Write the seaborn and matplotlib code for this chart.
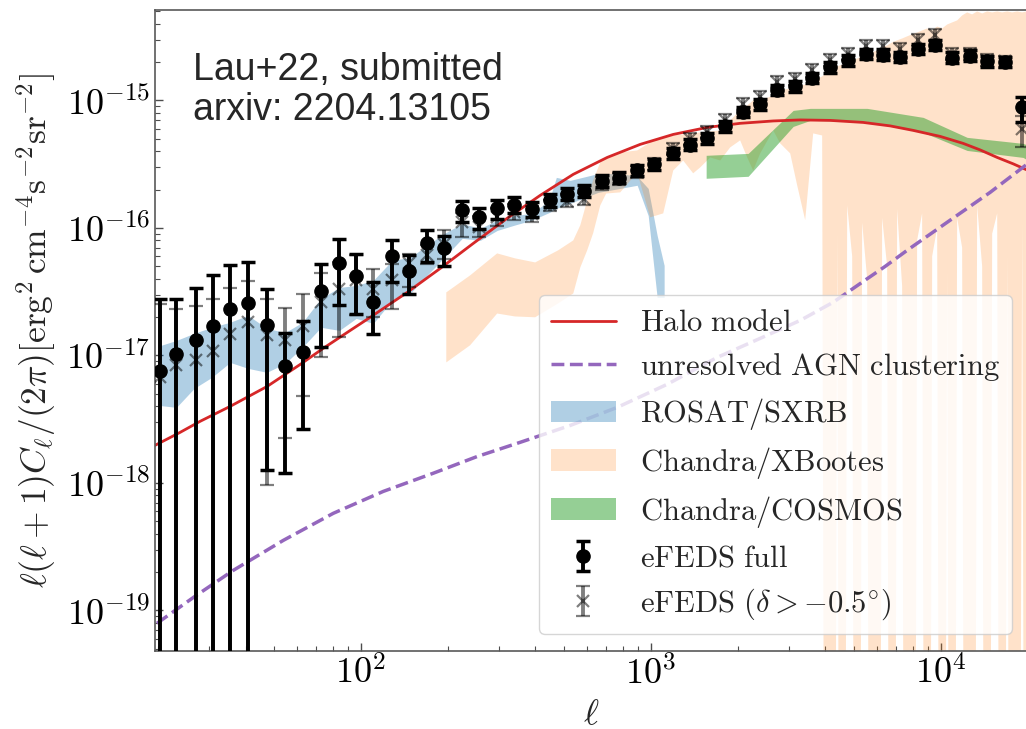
import numpy as np
import matplotlib
matplotlib.use("Agg")
import matplotlib.pyplot as plt
import seaborn as sns
from matplotlib.patches import Patch
from matplotlib.ticker import FuncFormatter, NullFormatter, LogLocator

# eFEDS full (black circles) and the dec > -0.5 deg subset (grey crosses)
ell = [20.3, 23.1, 27.0, 30.9, 35.4, 40.8, 47.3, 54.8, 62.9, 72.8, 84.0, 96.3,
       110.5, 127.9, 146.7, 168.9, 194.2, 223.0, 256.4, 294.4, 337.8, 388.8,
       447.1, 513.3, 590.3, 677.8, 777.7, 894.6, 1029, 1191, 1366, 1560, 1804,
       2070, 2382, 2733, 3145, 3608, 4153, 4802, 5514, 6341, 7239, 8332, 9557,
       10965, 12619, 14479, 16660, 19025]
full = [7.6e-18, 1.02e-17, 1.31e-17, 1.70e-17, 2.30e-17, 2.59e-17, 1.72e-17, 8.2e-18,
        1.07e-17, 3.19e-17, 5.33e-17, 4.19e-17, 2.62e-17, 5.97e-17, 4.58e-17, 7.60e-17,
        6.95e-17, 1.37e-16, 1.22e-16, 1.42e-16, 1.52e-16, 1.40e-16, 1.66e-16, 1.85e-16,
        1.94e-16, 2.33e-16, 2.48e-16, 2.83e-16, 3.15e-16, 3.86e-16, 4.49e-16, 5.06e-16,
        6.28e-16, 8.09e-16, 9.30e-16, 1.21e-15, 1.29e-15, 1.50e-15, 1.82e-15, 2.06e-15,
        2.32e-15, 2.28e-15, 2.19e-15, 2.54e-15, 2.73e-15, 2.16e-15, 2.25e-15, 2.02e-15,
        2.00e-15, 8.86e-16]
full_lo = [0, 0, 0, 0, 0, 0, 1.27e-18, 1.19e-18, 2.66e-18, 1.16e-17, 2.47e-17, 2.10e-17,
           1.48e-17, 3.76e-17, 3.05e-17, 5.39e-17, 5.01e-17, 1.11e-16, 9.86e-17, 1.18e-16,
           1.31e-16, 1.22e-16, 1.46e-16, 1.66e-16, 1.74e-16, 2.10e-16, 2.24e-16, 2.56e-16,
           2.85e-16, 3.50e-16, 4.07e-16, 4.58e-16, 5.70e-16, 7.35e-16, 8.45e-16, 1.10e-15,
           1.17e-15, 1.36e-15, 1.65e-15, 1.87e-15, 2.11e-15, 2.07e-15, 1.99e-15, 2.31e-15,
           2.48e-15, 1.96e-15, 2.04e-15, 1.84e-15, 1.82e-15, 6.75e-16]
full_hi = [2.75e-17, 2.79e-17, 3.40e-17, 4.24e-17, 5.08e-17, 5.39e-17, 3.34e-17, 1.50e-17,
           1.86e-17, 5.24e-17, 8.22e-17, 6.28e-17, 3.76e-17, 8.07e-17, 6.09e-17, 9.68e-17,
           8.57e-17, 1.64e-16, 1.44e-16, 1.66e-16, 1.74e-16, 1.59e-16, 1.85e-16, 2.06e-16,
           2.16e-16, 2.58e-16, 2.74e-16, 3.12e-16, 3.48e-16, 4.25e-16, 4.95e-16, 5.58e-16,
           6.92e-16, 8.90e-16, 1.02e-15, 1.33e-15, 1.42e-15, 1.65e-15, 2.00e-15, 2.27e-15,
           2.55e-15, 2.51e-15, 2.41e-15, 2.79e-15, 3.00e-15, 2.38e-15, 2.48e-15, 2.22e-15,
           2.20e-15, 1.07e-15]
north = [6.76e-18, 8.35e-18, 9.25e-18, 1.09e-17, 1.48e-17, 1.82e-17, 1.44e-17, 1.31e-17,
         1.69e-17, 2.62e-17, 3.33e-17, 3.87e-17, 3.33e-17, 3.87e-17, 5.27e-17, 6.09e-17,
         7.52e-17, 1.11e-16, 1.01e-16, 1.22e-16, 1.33e-16, 1.29e-16, 1.50e-16, 1.64e-16,
         1.69e-16, 2.23e-16, 2.43e-16, 2.74e-16, 3.15e-16, 4.18e-16, 5.01e-16, 5.64e-16,
         6.97e-16, 9.31e-16, 1.06e-15, 1.39e-15, 1.48e-15, 1.72e-15, 2.08e-15, 2.32e-15,
         2.67e-15, 2.67e-15, 2.54e-15, 2.99e-15, 3.24e-15, 2.32e-15, 2.32e-15, 2.06e-15,
         2.02e-15, 6.00e-16]
north_lo = [0, 0, 0, 0, 0, 0, 9.55e-19, 2.25e-18, 4.77e-18, 9.70e-18, 1.39e-17, 2.06e-17,
            2.00e-17, 2.32e-17, 3.43e-17, 5.24e-17, 5.73e-17, 8.47e-17, 8.42e-17, 1.03e-16,
            1.15e-16, 1.11e-16, 1.35e-16, 1.47e-16, 1.52e-16, 2.00e-16, 2.18e-16, 2.46e-16,
            2.83e-16, 3.75e-16, 4.49e-16, 5.06e-16, 6.25e-16, 8.35e-16, 9.50e-16, 1.25e-15,
            1.33e-15, 1.54e-15, 1.87e-15, 2.08e-15, 2.39e-15, 2.39e-15, 2.28e-15, 2.68e-15,
            2.90e-15, 2.08e-15, 2.08e-15, 1.85e-15, 1.81e-15, 4.30e-16]
north_hi = [2.54e-17, 2.32e-17, 2.42e-17, 2.75e-17, 3.37e-17, 3.80e-17, 2.75e-17, 2.37e-17,
            3.01e-17, 4.42e-17, 5.36e-17, 6.09e-17, 4.79e-17, 5.24e-17, 6.28e-17, 7.29e-17,
            9.55e-17, 1.30e-16, 1.23e-16, 1.42e-16, 1.53e-16, 1.48e-16, 1.67e-16, 1.83e-16,
            1.89e-16, 2.49e-16, 2.71e-16, 3.06e-16, 3.51e-16, 4.66e-16, 5.59e-16, 6.29e-16,
            7.77e-16, 1.04e-15, 1.18e-15, 1.55e-15, 1.65e-15, 1.92e-15, 2.32e-15, 2.59e-15,
            2.98e-15, 2.98e-15, 2.83e-15, 3.34e-15, 3.61e-15, 2.59e-15, 2.59e-15, 2.30e-15,
            2.25e-15, 7.60e-16]

# models
halo_ell = [19.5, 23.8, 27.9, 35.4, 47.5, 61.8, 74.1, 91.9, 107.7, 144.4, 187.7, 243.9,
            319.5, 415.3, 539.8, 707.0, 918.8, 1194, 1564, 2032, 2641, 3272, 4153, 5398,
            6686, 8025, 9945, 11940, 13660, 15640, 17760, 20000]
halo_cl = [1.97e-18, 2.49e-18, 3.04e-18, 3.98e-18, 5.71e-18, 8.50e-18, 1.135e-17, 1.57e-17,
           1.99e-17, 3.12e-17, 4.81e-17, 7.55e-17, 1.19e-16, 1.80e-16, 2.63e-16, 3.57e-16,
           4.52e-16, 5.41e-16, 6.14e-16, 6.61e-16, 6.90e-16, 7.03e-16, 6.97e-16, 6.72e-16,
           6.31e-16, 5.82e-16, 5.22e-16, 4.60e-16, 4.09e-16, 3.57e-16, 3.18e-16, 2.82e-16]
agn_ell = [19.8, 26.8, 36.3, 54.0, 80.3, 119.4, 177.6, 251.8, 354.2, 526.8, 765.4, 1138,
           1693, 2382, 3272, 4253, 5398, 6427, 7650, 10770, 14790, 20000]
agn_cl = [7.91e-20, 1.29e-19, 2.06e-19, 3.54e-19, 5.77e-19, 8.57e-19, 1.19e-18, 1.61e-18,
          2.08e-18, 2.82e-18, 3.91e-18, 5.93e-18, 9.64e-18, 1.36e-17, 1.88e-17, 2.61e-17,
          3.80e-17, 4.99e-17, 6.67e-17, 1.15e-16, 1.90e-16, 3.21e-16]

# literature bands
rosat_ell = [20.0, 23.1, 26.6, 30.6, 35.4, 40.8, 47.4, 54.8, 62.9, 72.9, 84.3, 96.3, 110.3,
             128.2, 147.9, 169.0, 194.0, 223.6, 258, 295, 338, 389, 446, 472, 527, 658,
             783, 897, 979, 1051, 1111]
rosat_hi = [1.18e-17, 1.31e-17, 1.49e-17, 1.66e-17, 1.82e-17, 2.06e-17, 1.63e-17, 1.51e-17,
            1.82e-17, 2.80e-17, 3.41e-17, 3.54e-17, 3.87e-17, 5.56e-17, 5.87e-17, 7.29e-17,
            9.06e-17, 1.08e-16, 9.91e-17, 1.15e-16, 1.25e-16, 1.30e-16, 1.64e-16, 2.49e-16,
            2.36e-16, 2.67e-16, 2.67e-16, 2.54e-16, 2.04e-16, 8.73e-17, 5.08e-17]
rosat_lo = [4.06e-18, 3.91e-18, 5.51e-18, 6.72e-18, 8.81e-18, 7.91e-18, 7.36e-18, 8.65e-18,
            1.16e-17, 1.66e-17, 1.57e-17, 1.95e-17, 1.78e-17, 2.70e-17, 3.06e-17, 4.24e-17,
            5.87e-17, 8.28e-17, 7.98e-17, 9.55e-17, 1.05e-16, 1.15e-16, 1.32e-16, 1.42e-16,
            1.56e-16, 1.90e-16, 2.04e-16, 2.16e-16, 1.25e-16, 2.85e-17, 2.85e-17]

xb_ell = [197, 238, 295, 340, 399, 479, 540, 571, 603, 632, 669, 701, 784, 897, 995, 1103,
          1194, 1292, 1399, 1479, 1602, 1734, 1877, 2032, 2149, 2253, 2382, 2641, 2793, 3023,
          3195, 3405, 3628, 3896, 4054, 4219, 4390, 4568, 4753, 4945, 5145, 5353, 5570, 5796,
          6030, 6274, 6528, 6792, 7067, 7353, 7650, 7960, 8282, 8617, 8970, 9333, 9710, 10104,
          10513, 10940, 11380, 11840, 12320, 12820, 13340, 13880, 14440, 15030, 15640, 16270,
          16930, 17620, 18330, 19070, 19850]
xb_hi = [3.12e-17, 4.24e-17, 6.31e-17, 5.77e-17, 5.36e-17, 6.67e-17, 7.98e-17, 1.05e-16,
         1.64e-16, 2.36e-16, 3.26e-16, 3.57e-16, 3.91e-16, 4.05e-16, 4.69e-16, 5.13e-16,
         5.31e-16, 5.41e-16, 5.51e-16, 5.61e-16, 5.71e-16, 5.82e-16, 6.97e-16, 8.35e-16,
         9.14e-16, 1.00e-15, 1.00e-15, 1.09e-15, 1.20e-15, 1.24e-15, 1.29e-15, 1.33e-15,
         1.44e-15, 1.54e-15, 1.66e-15, 1.72e-15, 1.85e-15, 1.91e-15, 1.99e-15, 2.06e-15,
         2.13e-15, 2.21e-15, 2.25e-15, 2.38e-15, 2.47e-15, 2.61e-15, 2.70e-15, 2.85e-15,
         2.96e-15, 3.06e-15, 3.18e-15, 3.30e-15, 3.41e-15, 3.54e-15, 3.67e-15, 3.54e-15,
         3.80e-15, 3.67e-15, 3.94e-15, 4.09e-15, 4.24e-15, 4.64e-15, 4.90e-15, 4.73e-15,
         4.99e-15, 4.81e-15, 4.99e-15, 4.90e-15, 4.99e-15, 4.90e-15, 4.99e-15, 4.90e-15,
         4.99e-15, 4.90e-15, 4.99e-15]
xb_lo = [8.81e-18, 1.20e-17, 2.13e-17, 2.02e-17, 1.99e-17, 2.56e-17, 3.06e-17, 4.90e-17,
         6.67e-17, 9.06e-17, 1.50e-16, 1.86e-16, 1.90e-16, 2.72e-16, 1.21e-16, 1.30e-16,
         2.82e-16, 3.38e-16, 2.68e-16, 2.98e-16, 3.57e-16, 3.38e-16, 4.28e-16, 4.86e-16,
         3.57e-16, 2.82e-16, 3.84e-16, 5.82e-16, 4.60e-16, 3.84e-16, 2.16e-16, 1.15e-16,
         5.51e-16, 5.31e-16, 0, 0, 9e-17, 0, 1.5e-16, 6e-17, 0, 1.1e-16, 4e-17, 0,
         0, 1.2e-16, 5e-17, 0, 1.4e-16, 3.5e-17, 0, 0, 8e-17, 1.3e-16, 0, 6e-17,
         1.0e-16, 0, 4.5e-17, 0, 1.2e-16, 7e-17, 0, 0, 1.5e-16, 5e-17, 0, 9e-17,
         1.3e-16, 0, 6e-17, 0, 0, 1.1e-16, 0]

cosmos_ell = [1551, 2165, 3095, 3543, 5570, 8690, 12320, 19220, 20000]
cosmos_hi = [3.71e-16, 3.84e-16, 8.35e-16, 8.66e-16, 8.66e-16, 7.36e-16, 5.13e-16, 4.60e-16, 4.44e-16]
cosmos_lo = [2.45e-16, 2.54e-16, 6.25e-16, 6.97e-16, 6.84e-16, 5.61e-16, 4.05e-16, 3.57e-16, 3.38e-16]

xticks = [1e2, 1e3, 1e4]
yticks = [1e-19, 1e-18, 1e-17, 1e-16, 1e-15]

sns.set_style("ticks")
plt.rcParams["mathtext.fontset"] = "cm"
plt.rcParams["font.family"] = ["DejaVu Serif"]

fig = plt.figure(figsize=(10.26, 7.29), dpi=100)
ax = fig.add_axes([0.1511, 0.107, 0.851, 0.879])
ax.set_xscale("log")
ax.set_yscale("log")

# bands (a zero lower bound reaches the bottom of the log axis)
xb_lo_plot = np.where(np.array(xb_lo) > 0, xb_lo, 1e-30)
ax.fill_between(rosat_ell, rosat_lo, rosat_hi, color="C0", alpha=0.35, lw=0, zorder=1)
ax.fill_between(xb_ell, xb_lo_plot, xb_hi, color="C1", alpha=0.22, lw=0, zorder=1)
ax.fill_between(cosmos_ell, cosmos_lo, cosmos_hi, color="C2", alpha=0.5, lw=0, zorder=1)

sns.lineplot(x=halo_ell, y=halo_cl, ax=ax, color="C3", lw=2, zorder=2)
sns.lineplot(x=agn_ell, y=agn_cl, ax=ax, color="C4", lw=2.5, ls="--", zorder=2)

full_a = np.array(full)
north_a = np.array(north)
eb1 = ax.errorbar(ell, full, yerr=[full_a - np.array(full_lo), np.array(full_hi) - full_a],
                  fmt="o", color="k", ms=9.5, elinewidth=2.8, capsize=5, capthick=2.5, zorder=3)
eb2 = ax.errorbar(ell, north, yerr=[north_a - np.array(north_lo), np.array(north_hi) - north_a],
                  fmt="x", color="k", alpha=0.5, ms=8, mew=1.6, elinewidth=2.8, capsize=5,
                  capthick=2.5, zorder=3)

ax.set_xlim(19.5, 2.0e4)
ax.set_ylim(4.8e-20, 5.1e-15)

fmt = FuncFormatter(lambda v, p: r"$10^{%d}$" % int(round(np.log10(v))))
ax.set_xticks(xticks)
ax.set_yticks(yticks)
ax.xaxis.set_major_formatter(fmt)
ax.yaxis.set_major_formatter(fmt)
ax.yaxis.set_minor_locator(LogLocator(base=10, subs=np.arange(2, 10), numticks=50))
ax.xaxis.set_minor_formatter(NullFormatter())
ax.yaxis.set_minor_formatter(NullFormatter())
ax.tick_params(which="both", direction="in", labelsize=26, colors="0.3", labelcolor="k")
ax.tick_params(which="major", length=6, width=1)
ax.tick_params(which="minor", length=3.5, width=0.8)
for s in ax.spines.values():
    s.set_color("0.35")
    s.set_linewidth(1.2)

ax.set_xlabel(r"$\ell$", fontsize=26, labelpad=4)
ax.set_ylabel(r"$\ell(\ell+1)C_\ell/(2\pi)[\mathrm{erg}^2\,\mathrm{cm}^{-4}\mathrm{s}^{-2}\mathrm{sr}^{-2}]$",
              fontsize=25.5, labelpad=6)

ax.text(0.043, 0.935, "Lau+22, submitted\narxiv: 2204.13105", transform=ax.transAxes,
        va="top", ha="left", fontsize=27, family="Liberation Sans", linespacing=1.15)

handles = [
    plt.Line2D([], [], color="C3", lw=2),
    plt.Line2D([], [], color="C4", lw=2.5, ls="--"),
    Patch(facecolor="C0", alpha=0.35, lw=0),
    Patch(facecolor="C1", alpha=0.22, lw=0),
    Patch(facecolor="C2", alpha=0.5, lw=0),
    eb1, eb2,
]
labels = [r"$\mathrm{Halo\ model}$", r"$\mathrm{unresolved\ AGN\ clustering}$",
          r"$\mathrm{ROSAT/SXRB}$", r"$\mathrm{Chandra/XBootes}$", r"$\mathrm{Chandra/COSMOS}$",
          r"$\mathrm{eFEDS\ full}$", r"$\mathrm{eFEDS}\ (\delta > -0.5^{\circ})$"]
ax.legend(handles, labels, loc="lower right", bbox_to_anchor=(0.982, 0.0265),
          borderaxespad=0, fontsize=22, handlelength=2.1, labelspacing=0.42, framealpha=0.8)

fig.savefig("out.png", dpi=100)
